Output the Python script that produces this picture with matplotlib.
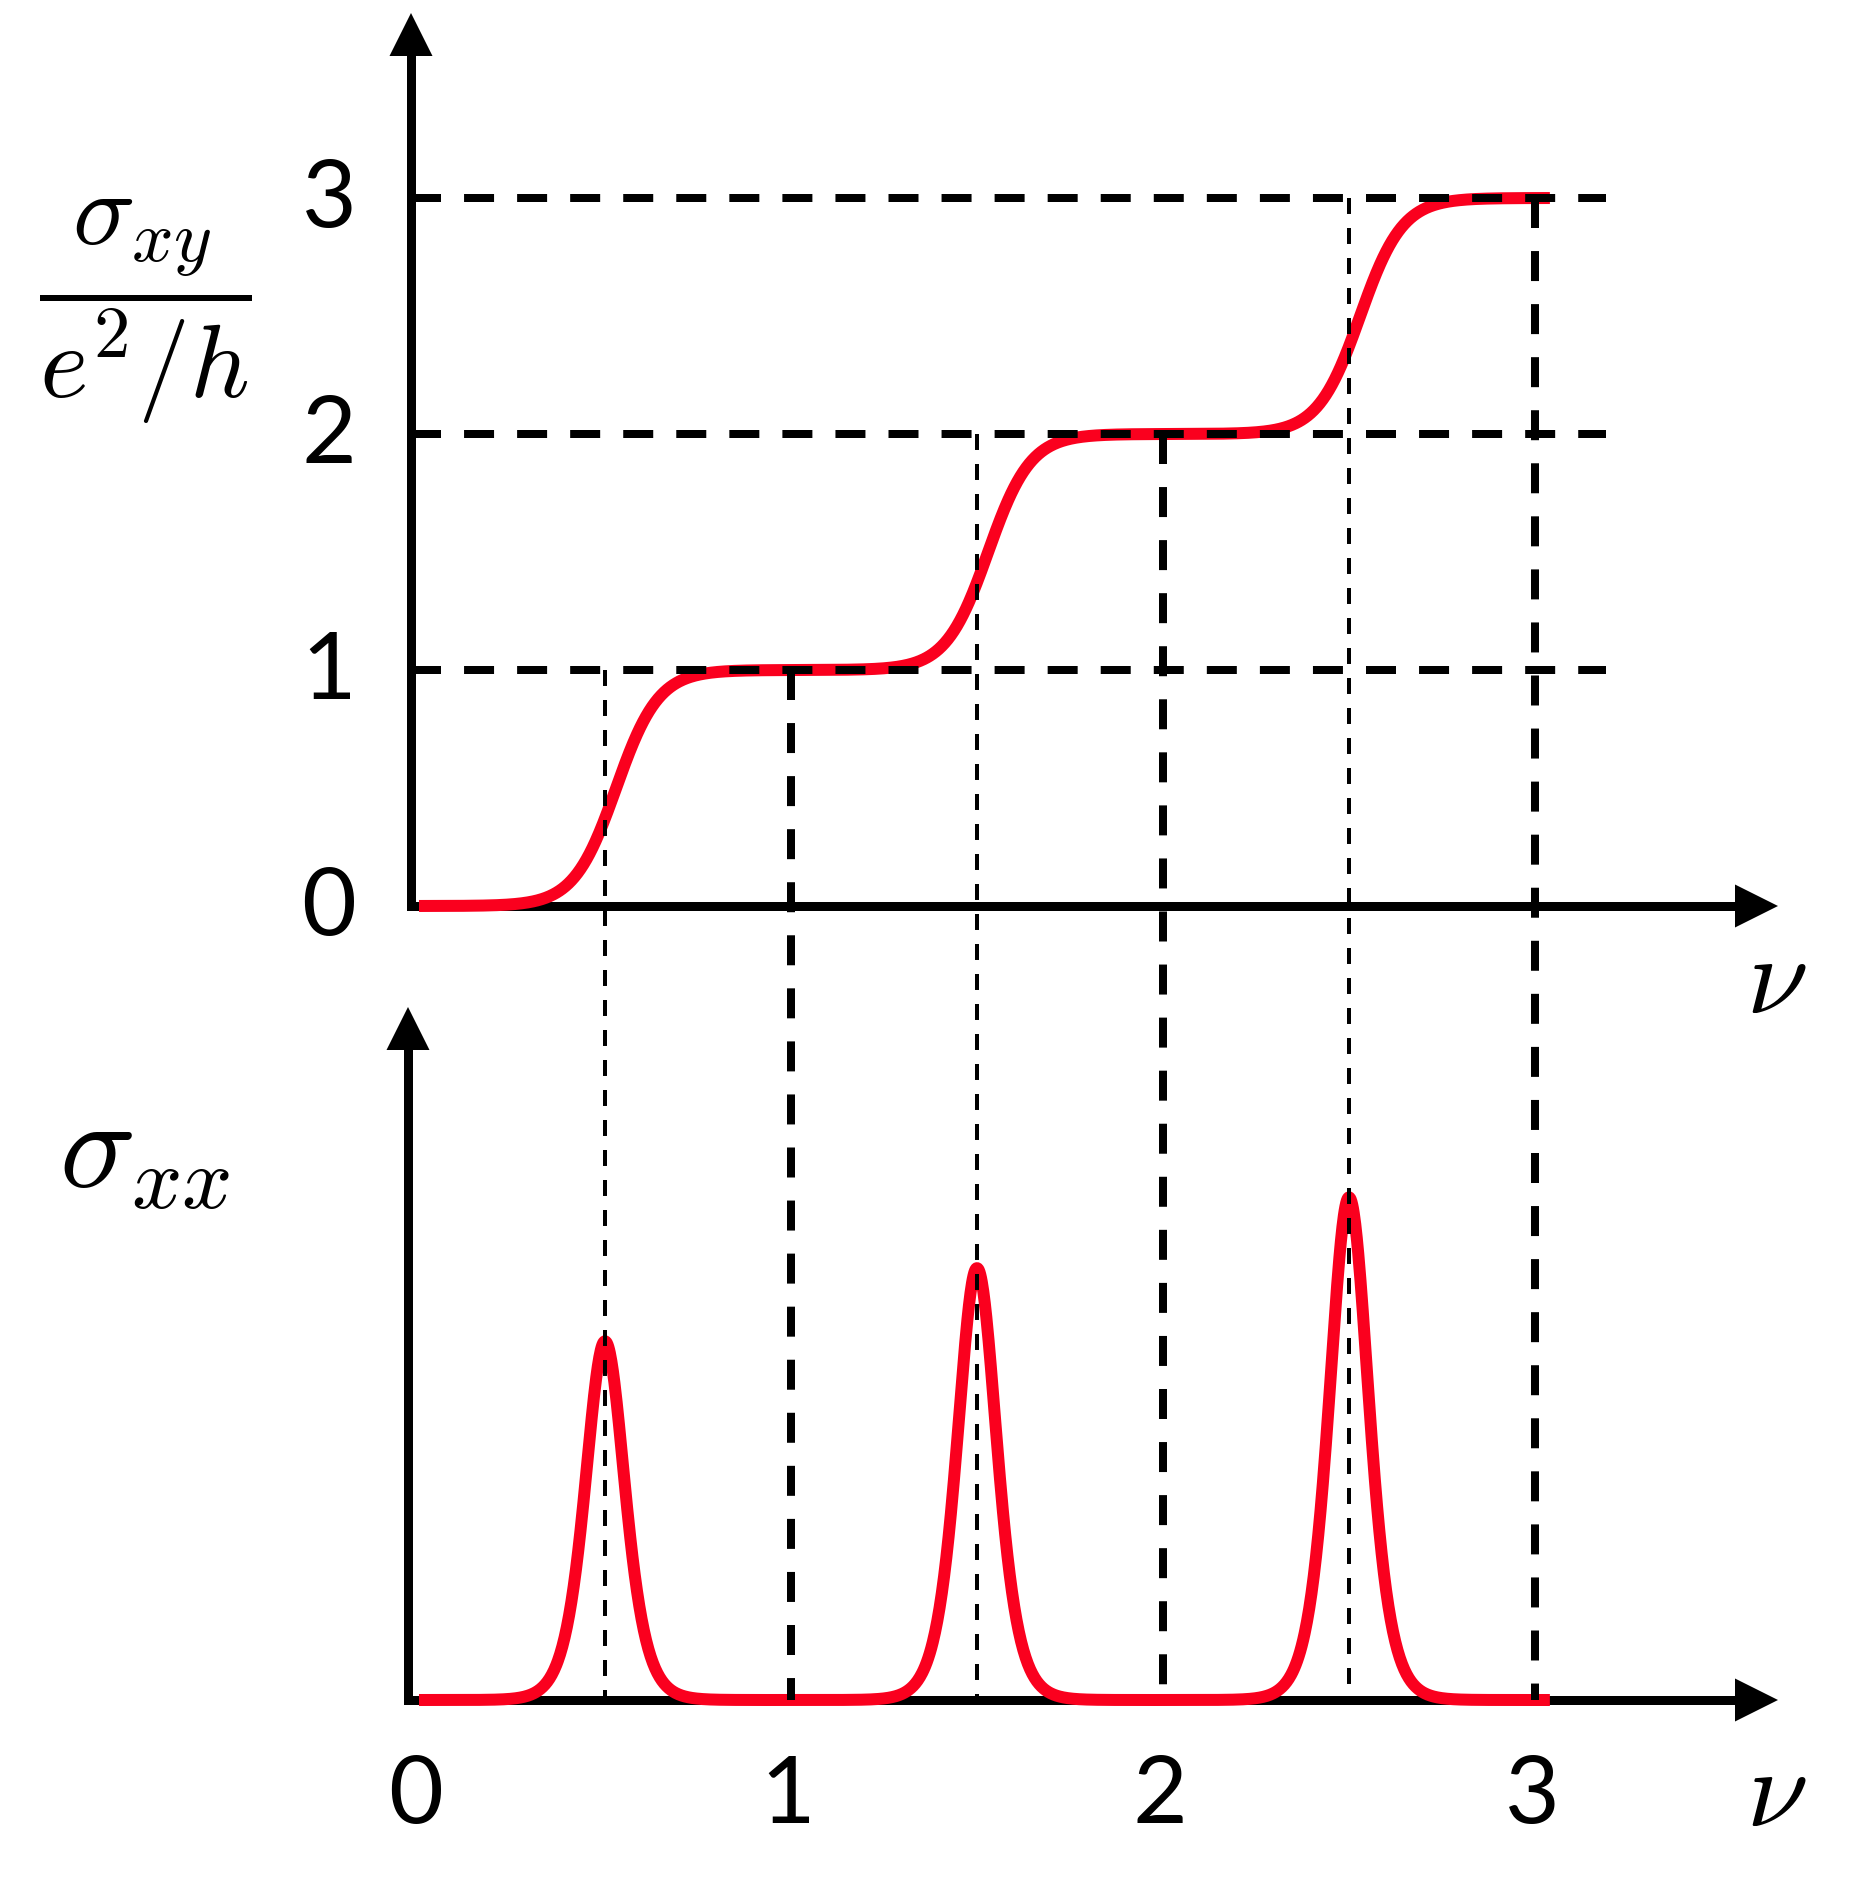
import numpy as np
import matplotlib
matplotlib.use('Agg')
import matplotlib.pyplot as plt
from matplotlib.patches import ConnectionPatch, Polygon

plt.rcParams['mathtext.fontset'] = 'cm'
plt.rcParams['font.family'] = ['Lato', 'DejaVu Sans']
plt.rcParams['lines.scale_dashes'] = False

# values
levels = [1, 2, 3]                  # Hall plateaus, sigma_xy in units of e^2/h
transitions = [0.5, 1.5, 2.5]       # filling factors of the sigma_xx peaks / thin guides
step_centers = [0.53, 1.53, 2.53]   # midpoints of the sigma_xy steps
peak_heights = [1.52, 1.83, 2.13]   # sigma_xx peak heights (arbitrary units)
step_width = 0.057                  # smearing of the sigma_xy steps
peak_width = 0.0715                 # sech^2 half-width of the sigma_xx peaks
nu_range = [0.0, 3.04]              # extent of the red curves
ticks = [0, 1, 2, 3]
tick_labels = ['0', '1', '2', '3']

RED = '#FA001E'

nu = np.linspace(nu_range[0], nu_range[1], 1500)
sigma_xy = sum(1.0 / (1.0 + np.exp(-(nu - c) / step_width)) for c in step_centers)
sigma_xx = sum(h / np.cosh((nu - c) / peak_width) ** 2 for c, h in zip(transitions, peak_heights))

# layout (pixels of the 1862x1888 canvas)
W, H = 1862, 1888
X0, XU = 419, 372          # nu = 0 and one unit of nu
TOP0, BOT0, YU = 906, 1700, 236
DPI = 100

fig = plt.figure(figsize=(W / DPI, H / DPI), dpi=DPI)
ax_top = fig.add_axes([0, 0, 1, 1])
ax_bot = fig.add_axes([0, 0, 1, 1])
for ax in (ax_top, ax_bot):
    ax.set_axis_off()
    ax.set_xlim(-X0 / XU, (W - X0) / XU)
ax_top.set_ylim((TOP0 - H) / YU, TOP0 / YU)
ax_bot.set_ylim((BOT0 - H) / YU, BOT0 / YU)

pt = 72 / DPI  # points per pixel


def axis_arrow(ax, start, end, lw_px=9, head_px=43):
    tr = ax.transData
    p0 = tr.transform(start)
    p1 = tr.transform(end)
    d = (p1 - p0) / np.hypot(*(p1 - p0))
    perp = np.array([-d[1], d[0]])
    base = p1 - d * head_px
    inv = tr.inverted()
    shaft_end = inv.transform(base + d * 2)
    ax.plot([start[0], shaft_end[0]], [start[1], shaft_end[1]], color='black',
            lw=lw_px * pt, solid_capstyle='projecting', zorder=2)
    head = inv.transform([p1, base + perp * head_px / 2, base - perp * head_px / 2])
    ax.add_patch(Polygon(head, closed=True, facecolor='black', edgecolor='none', zorder=2))


top_axis_x = (411 - X0) / XU
bot_axis_x = (408 - X0) / XU
tip_x = (1778 - X0) / XU

axis_arrow(ax_top, (top_axis_x, 0), (top_axis_x, (TOP0 - 13) / YU))
axis_arrow(ax_top, (top_axis_x, 0), (tip_x, 0))
axis_arrow(ax_bot, (bot_axis_x, 0), (bot_axis_x, (BOT0 - 1007) / YU))
axis_arrow(ax_bot, (bot_axis_x, 0), (tip_x, 0))

# red curves
ax_top.plot(nu, sigma_xy, color=RED, lw=12 * pt, solid_capstyle='butt', zorder=3)
ax_bot.plot(nu, sigma_xx, color=RED, lw=12 * pt, solid_capstyle='butt', zorder=3)

thick = dict(color='black', lw=8 * pt, linestyle=(0, (21.6, 16.6)))
thin = dict(color='black', lw=4 * pt, linestyle=(0, (11.5, 10.1)))

# horizontal guides at each plateau
for lvl in levels:
    ax_top.plot([top_axis_x, 3.19], [lvl, lvl], zorder=4, dash_capstyle='butt', **thick)

# vertical guides through both panels
for lvl, c in zip(levels, transitions):
    for x, style in ((c, thin), (lvl, thick)):
        con = ConnectionPatch(xyA=(x, lvl), coordsA=ax_top.transData,
                              xyB=(x, 0), coordsB=ax_bot.transData,
                              capstyle='butt', zorder=5, **style)
        fig.add_artist(con)

# tick labels
for t, lab in zip(ticks, tick_labels):
    ax_top.annotate(lab, xy=(top_axis_x, t), xytext=(-82, -3), textcoords='offset pixels',
                    ha='center', va='center', fontsize=68)
    ax_bot.annotate(lab, xy=(t, 0), xytext=(-3, -97), textcoords='offset pixels',
                    ha='center', va='center', fontsize=68)

ax_top.annotate(r'$\nu$', xy=(tip_x, 0), xytext=(-2, -76), textcoords='offset pixels',
                ha='center', va='center', fontsize=80)
ax_bot.annotate(r'$\nu$', xy=(tip_x, 0), xytext=(-2, -95), textcoords='offset pixels',
                ha='center', va='center', fontsize=80)

fig.text(145 / W, 1 - 312 / H, r'$\dfrac{\sigma_{xy}}{e^2/h}$', ha='center', va='center', fontsize=75)
fig.text(145 / W, 1 - 1154 / H, r'$\sigma_{xx}$', ha='center', va='center', fontsize=91)

fig.savefig('out.png', dpi=DPI, facecolor='white')
